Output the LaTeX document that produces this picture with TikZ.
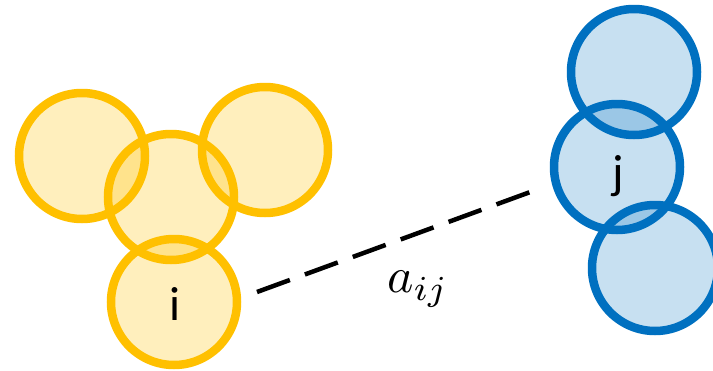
\documentclass[tikz,border=0pt]{standalone}
\usepackage{fontspec}
\usetikzlibrary{calc}
\newfontfamily\lblfont{Carlito}
\definecolor{ygold}{HTML}{FFC000}
\definecolor{ublue}{HTML}{0070C0}
\tikzset{
  x=1pt,y=-1pt,
  ycirc/.style={circle,draw=ygold,fill=ygold,fill opacity=0.26,draw opacity=1,line width=8.5pt,minimum size=126pt,inner sep=0pt},
  bcirc/.style={circle,draw=ublue,fill=ublue,fill opacity=0.22,draw opacity=1,line width=8.5pt,minimum size=126pt,inner sep=0pt},
  lbl/.style={font=\lblfont\fontsize{48}{52}\selectfont,inner sep=0pt,anchor=base},
  link/.style={line width=4.5pt,dash pattern=on 35pt off 16pt},
}
\begin{document}
\begin{tikzpicture}
\useasboundingbox (0,0) rectangle (713,370);
\clip (0,0) rectangle (713,370);
% yellow cluster
\node[ycirc] (yl) at (82,156) {};
\node[ycirc] (yc) at (171,197) {};
\node[ycirc] (yr) at (265,150) {};
\node[ycirc] (yi) at (174,302) {};
% blue cluster
\node[bcirc] (bt) at (634,72) {};
\node[bcirc] (bj) at (617,167) {};
\node[bcirc] (bb) at (655,268) {};
% labels
\node[lbl] (ti) at (175,320) {i};
\node[lbl] (tj) at (618,188) {j};
% connector
\coordinate (s) at ($(yi.center)+(83,-10)$);
\coordinate (e) at ($(bj.center)+(-84,24)$);
\draw[link] (s) -- (e);
\node[scale=5,inner sep=0pt] (aij) at (418,289) {$a_{ij}$};
\end{tikzpicture}
\end{document}
